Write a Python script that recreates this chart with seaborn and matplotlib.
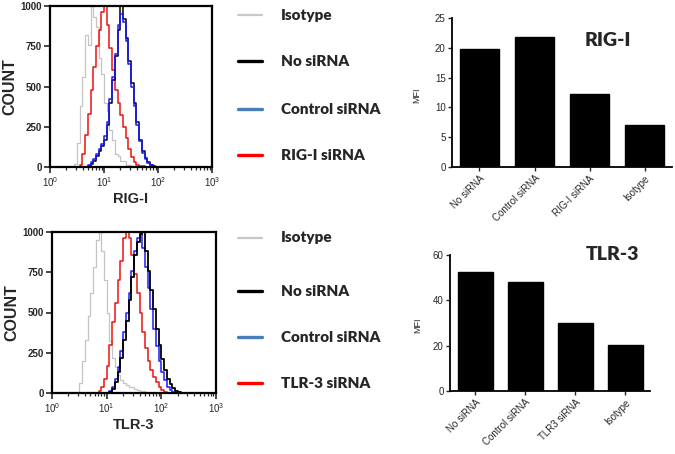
import numpy as np
import pandas as pd
import matplotlib
matplotlib.use("Agg")
import matplotlib.pyplot as plt
import seaborn as sns
from matplotlib.lines import Line2D

# flow histograms: counts per log10 bin (bin centres 0.425, 0.475, ... )
n_bins = 44
bin_start = 0.425
bin_step = 0.05

rig_isotype = [0, 20, 150, 380, 560, 820, 760, 1000, 930, 870, 680, 580, 400, 350,
               230, 170, 80, 70, 35, 40, 15, 12, 5]
rig_red = [0, 0, 0, 10, 80, 200, 330, 480, 620, 750, 850, 960, 1000, 880, 740, 600,
           480, 400, 320, 250, 180, 110, 60, 30, 15, 8, 4]
rig_black = [0, 0, 0, 0, 0, 0, 5, 20, 40, 70, 100, 130, 170, 260, 400, 540, 690, 850,
             1000, 920, 800, 660, 520, 400, 280, 170, 100, 55, 30, 15, 6, 2]
rig_blue = [0, 0, 0, 0, 0, 0, 10, 30, 50, 80, 110, 140, 190, 280, 420, 560, 700, 880,
            950, 900, 780, 640, 500, 380, 260, 160, 90, 50, 25, 12, 5]

tlr_isotype = [0, 5, 60, 200, 330, 480, 620, 780, 950, 1000, 880, 700, 500, 320, 220,
               160, 110, 80, 60, 50, 40, 35, 25, 20, 15, 10, 5]
tlr_red = [0, 0, 0, 0, 0, 0, 0, 0, 0, 10, 40, 90, 170, 300, 440, 560, 700, 820, 960,
           1000, 960, 860, 740, 620, 500, 380, 280, 200, 140, 100, 70, 40, 20, 8, 3]
tlr_blue = [0, 0, 0, 0, 0, 0, 0, 0, 0, 0, 0, 0, 0, 10, 40, 90, 160, 260, 380, 500, 620,
            760, 880, 960, 1000, 900, 780, 650, 520, 400, 290, 200, 130, 80, 40, 20, 8, 3]
tlr_black = [0, 0, 0, 0, 0, 0, 0, 0, 0, 0, 0, 0, 0, 5, 25, 70, 130, 220, 330, 450, 580,
             720, 860, 940, 990, 1000, 880, 760, 640, 520, 400, 300, 210, 140, 90, 55,
             30, 15, 6, 2]

# MFI bar charts
rig_cats = ["No siRNA", "Control siRNA", "RIG-I siRNA", "Isotype"]
rig_mfi = [19.8, 21.8, 12.2, 7.0]
tlr_cats = ["No siRNA", "Control siRNA", "TLR3 siRNA", "Isotype"]
tlr_mfi = [52.5, 48.2, 30.2, 20.5]

rig_legend = ["Isotype", "No siRNA", "Control siRNA", "RIG-I siRNA"]
tlr_legend = ["Isotype", "No siRNA", "Control siRNA", "TLR-3 siRNA"]

sns.set_style("ticks")
plt.rcParams["font.family"] = ["Liberation Sans", "DejaVu Sans"]

fig = plt.figure(figsize=(6.75, 4.54), dpi=100)
W, H = 675, 454


def px_axes(left, top, right, bottom):
    return fig.add_axes([left / W, 1 - bottom / H, (right - left) / W, (bottom - top) / H])


def pad(v):
    return list(v) + [0] * (n_bins - len(v))


def hist_panel(ax, curves, xlabel):
    x = 10 ** (bin_start + bin_step * np.arange(n_bins))
    for vals, col, lw in curves:
        sns.lineplot(x=x, y=pad(vals), color=col, lw=lw, drawstyle="steps-mid",
                     estimator=None, ax=ax)
    ax.set_xscale("log")
    ax.set_xlim(1, 1000)
    ax.set_ylim(0, 1000)
    ax.set_yticks([0, 250, 500, 750, 1000])
    for s in ax.spines.values():
        s.set_linewidth(1.6)
        s.set_color("black")
    ax.tick_params(axis="both", which="major", direction="out", length=4, width=1.2,
                   labelsize=7, pad=2)
    ax.tick_params(axis="x", which="minor", direction="out", length=2.5, width=0.9)
    for t in ax.get_yticklabels():
        t.set_fontweight("bold")
    ax.set_ylabel("COUNT", fontsize=11.5, fontweight="bold", labelpad=2)
    ax.set_xlabel(xlabel, fontsize=10.5, fontweight="bold", labelpad=2)


ax1 = px_axes(50, 6, 212, 167)
hist_panel(ax1, [(rig_isotype, "#c4c4c4", 0.9), (rig_red, "#ee1111", 1.1),
                 (rig_black, "black", 1.1), (rig_blue, "#1a1aff", 1.1)], "RIG-I")

ax2 = px_axes(52, 232, 216, 393)
hist_panel(ax2, [(tlr_isotype, "#c4c4c4", 0.9), (tlr_red, "#ee1111", 1.1),
                 (tlr_blue, "#1a1aff", 1.1), (tlr_black, "black", 1.3)], "TLR-3")

# legends
leg_colors = ["#c8c8c8", "black", "#4a7ebb", "#ff0000"]


def legend_block(labels, ys):
    for lab, col, y in zip(labels, leg_colors, ys):
        fig.add_artist(Line2D([238 / W, 262 / W], [1 - y / H, 1 - y / H], color=col,
                              lw=2.4 if col != "#c8c8c8" else 1.6))
        fig.text(281 / W, 1 - y / H, lab, fontsize=11, fontweight="heavy",
                 family=["Lato", "DejaVu Sans"], va="center", ha="left")


legend_block(rig_legend, [15, 61, 109, 155])
legend_block(tlr_legend, [238, 291, 337, 383])


def bar_panel(ax, cats, vals, ymax, step, title, title_xy):
    df = pd.DataFrame({"group": cats, "mfi": vals})
    sns.barplot(data=df, x="group", y="mfi", color="black", width=0.7,
                edgecolor="black", ax=ax)
    ax.set_xlim(-0.5, 3.5)
    ax.set_ylim(0, ymax)
    ax.set_yticks(np.arange(0, ymax + 1, step))
    sns.despine(ax=ax)
    for s in ["left", "bottom"]:
        ax.spines[s].set_linewidth(1.3)
        ax.spines[s].set_color("black")
    ax.tick_params(direction="out", length=3, width=1, labelsize=7, pad=1.5)
    ax.set_xticks(range(len(cats)))
    ax.set_xticklabels(cats, rotation=45, ha="right", rotation_mode="anchor")
    ax.set_xlabel("")
    ax.set_ylabel("MFI", fontsize=6.5)
    ax.yaxis.set_label_coords(-0.14, 0.48)
    ax.text(title_xy[0], title_xy[1], title, transform=ax.transAxes, fontsize=14,
            fontweight="heavy", family=["Lato", "DejaVu Sans"], ha="center", va="center")


ax3 = px_axes(452, 18, 672, 167)
bar_panel(ax3, rig_cats, rig_mfi, 25, 5, "RIG-I", (0.71, 0.85))

ax4 = px_axes(450, 255, 650, 391)
bar_panel(ax4, tlr_cats, tlr_mfi, 60, 20, "TLR-3", (0.81, 1.0))

fig.savefig("out.png", dpi=100)
